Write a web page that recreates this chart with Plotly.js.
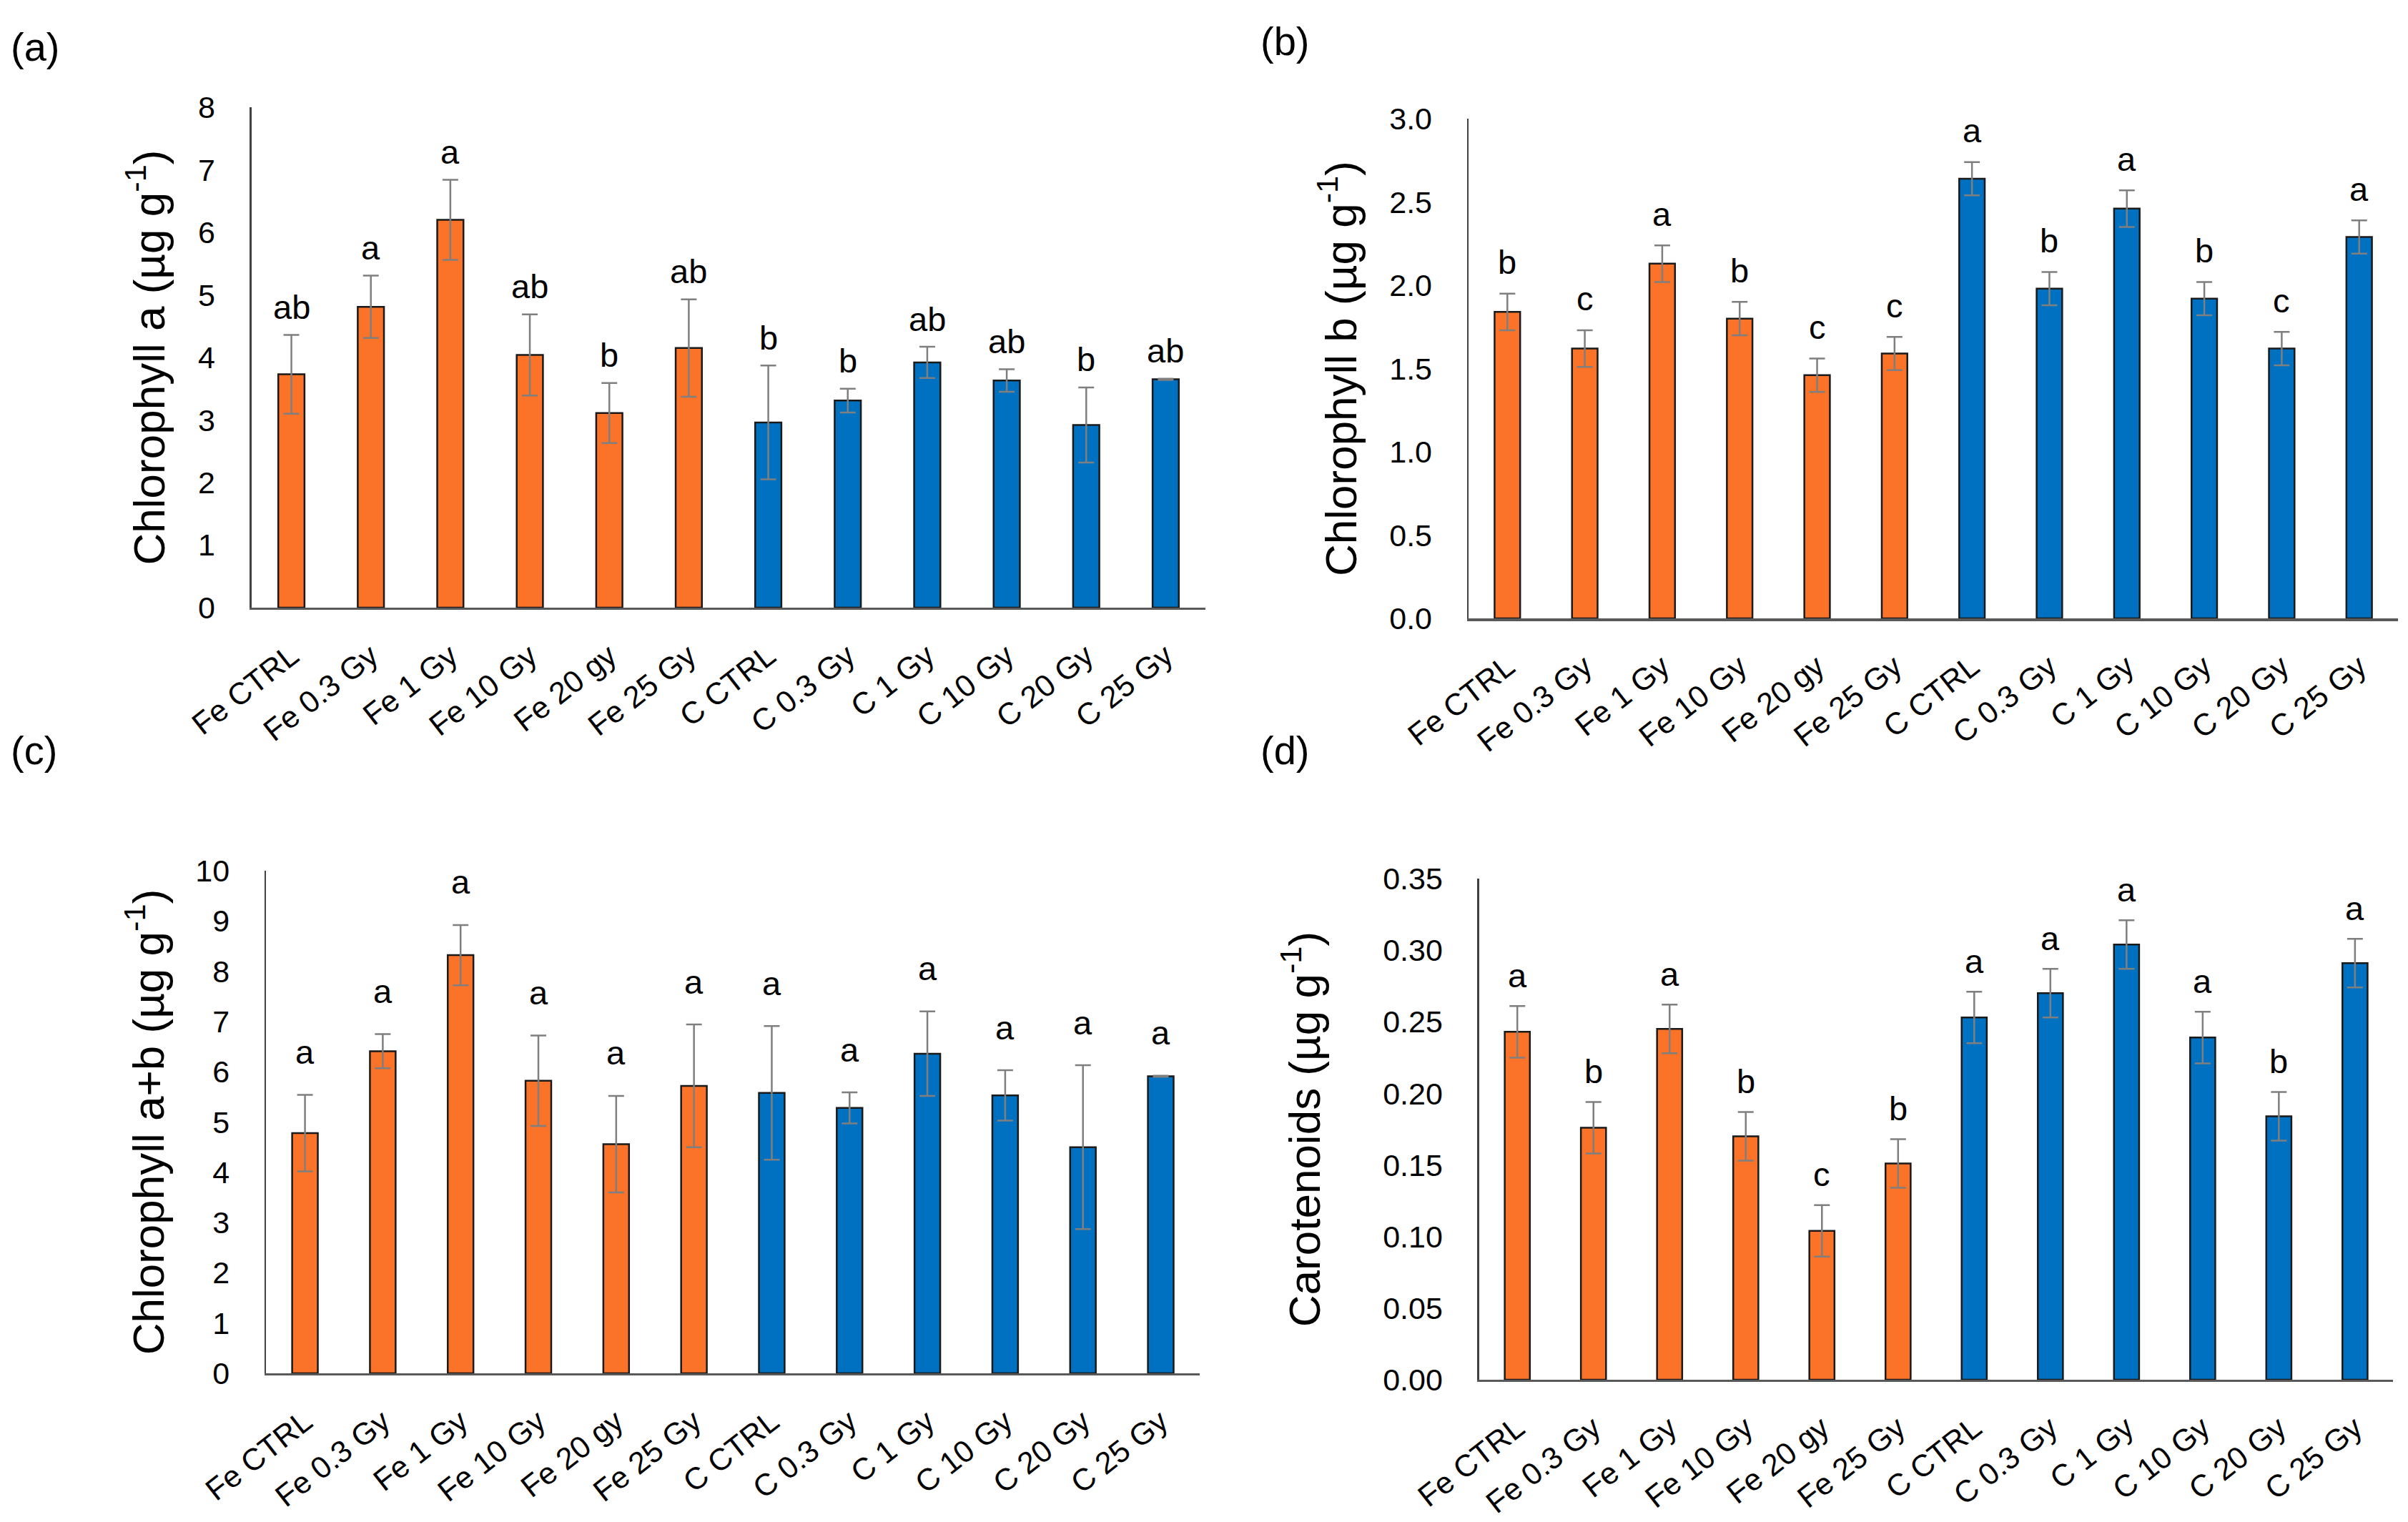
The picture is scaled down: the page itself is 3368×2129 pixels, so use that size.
<!DOCTYPE html>
<html>
<head>
<meta charset="utf-8">
<script src="https://cdn.plot.ly/plotly-3.0.1.min.js"></script>
<style>
html,body{margin:0;padding:0;background:#fff;}
#chart{width:3368px;height:2129px;}
</style>
</head>
<body>
<div id="chart"></div>
<script>
// ---------- data ----------
const categories = ['Fe CTRL','Fe 0.3 Gy','Fe 1 Gy','Fe 10 Gy','Fe 20 gy','Fe 25 Gy','C CTRL','C 0.3 Gy','C 1 Gy','C 10 Gy','C 20 Gy','C 25 Gy'];
const groups = ['Fe','Fe','Fe','Fe','Fe','Fe','C','C','C','C','C','C'];

const chlA = [3.73, 4.81, 6.20, 4.04, 3.11, 4.15, 2.96, 3.31, 3.92, 3.63, 2.92, 3.65];
const chlAErr = [0.63, 0.50, 0.64, 0.65, 0.48, 0.78, 0.91, 0.19, 0.25, 0.18, 0.60, 0.01];
const chlALetters = ['ab','a','a','ab','b','ab','b','b','ab','ab','b','ab'];

const chlB = [1.84, 1.62, 2.13, 1.80, 1.46, 1.59, 2.64, 1.98, 2.46, 1.92, 1.62, 2.29];
const chlBErr = [0.11, 0.11, 0.11, 0.10, 0.10, 0.10, 0.10, 0.10, 0.11, 0.10, 0.10, 0.10];
const chlBLetters = ['b','c','a','b','c','c','a','b','a','b','c','a'];

const chlAB = [4.78, 6.41, 8.32, 5.82, 4.56, 5.72, 5.58, 5.28, 6.36, 5.53, 4.50, 5.91];
const chlABErr = [0.76, 0.34, 0.60, 0.90, 0.96, 1.22, 1.33, 0.31, 0.84, 0.50, 1.63, 0.01];
const chlABLetters = ['a','a','a','a','a','a','a','a','a','a','a','a'];

const carot = [0.243, 0.176, 0.245, 0.170, 0.104, 0.151, 0.253, 0.270, 0.304, 0.239, 0.184, 0.291];
const carotErr = [0.018, 0.018, 0.017, 0.017, 0.018, 0.017, 0.018, 0.017, 0.017, 0.018, 0.017, 0.017];
const carotLetters = ['a','b','a','b','c','b','a','a','a','a','b','a'];

const yTitles = ['Chlorophyll a (µg g<sup>-1</sup>)', 'Chlorophyll b (µg g<sup>-1</sup>)', 'Chlorophyll a+b (µg g<sup>-1</sup>)', 'Carotenoids (µg g<sup>-1</sup>)'];
const panelLabels = ['(a)', '(b)', '(c)', '(d)'];

// ---------- style ----------
const groupColors = {Fe: '#FA7328', C: '#0070C0'};
const FONT = 'Liberation Sans, Arial, sans-serif';

const panels = [
  {vals: chlA, errs: chlAErr, letters: chlALetters, range: [0, 8], dtick: 1, fmt: '', xd: [0.1045, 0.5006], yd: [0.6008, 0.9295], standoff: 26, lshift: 39, lab: [0.004, 0.969]},
  {vals: chlB, errs: chlBErr, letters: chlBLetters, range: [0, 3], dtick: 0.5, fmt: '.1f', xd: [0.6099, 0.9958], yd: [0.5937, 0.922], standoff: 26, lshift: 44, lab: [0.523, 0.973]},
  {vals: chlAB, errs: chlABErr, letters: chlABLetters, range: [0, 10], dtick: 1, fmt: '', xd: [0.1105, 0.4982], yd: [0.0977, 0.4279], standoff: 24, lshift: 60, lab: [0.004, 0.507]},
  {vals: carot, errs: carotErr, letters: carotLetters, range: [0, 0.35], dtick: 0.05, fmt: '.2f', xd: [0.6143, 0.9938], yd: [0.0935, 0.4227], standoff: 68, lshift: 43, lab: [0.523, 0.507]}
];

const data = [];
const layout = {
  width: 3368, height: 2129,
  margin: {l: 0, r: 0, t: 0, b: 0},
  paper_bgcolor: '#ffffff', plot_bgcolor: '#ffffff',
  showlegend: false,
  bargap: 0.67,
  font: {family: FONT, color: '#000000'},
  annotations: []
};

panels.forEach((p, i) => {
  const n = i === 0 ? '' : String(i + 1);
  const xa = 'x' + n, ya = 'y' + n;
  data.push({
    type: 'bar',
    x: categories,
    y: p.vals,
    xaxis: xa, yaxis: ya,
    marker: {color: groups.map(g => groupColors[g]), line: {color: '#1a1a1a', width: 2.5}},
    error_y: {type: 'data', array: p.errs, visible: true, color: '#7f7f7f', thickness: 2.5, width: 11},
    hoverinfo: 'x+y'
  });
  layout['xaxis' + n] = {
    domain: p.xd, anchor: ya,
    type: 'category',
    showline: true, linecolor: '#595959', linewidth: 3.5,
    showgrid: false, zeroline: false, ticks: '',
    tickangle: -38,
    ticklabelstandoff: 22,
    tickfont: {family: FONT, size: 43, color: '#000000'}
  };
  layout['yaxis' + n] = {
    domain: p.yd, anchor: xa,
    range: p.range, dtick: p.dtick, tick0: 0, tickformat: p.fmt,
    showline: true, linecolor: '#404040', linewidth: 2.5,
    showgrid: false, zeroline: false, ticks: '',
    ticklabelstandoff: 40,
    tickfont: {family: FONT, size: 43, color: '#000000'},
    title: {
      text: yTitles[i],
      font: {family: FONT, size: 62, color: '#000000'},
      standoff: p.standoff
    }
  };
  categories.forEach((c, k) => {
    layout.annotations.push({
      x: c, y: p.vals[k] + p.errs[k], xref: xa, yref: ya,
      text: p.letters[k], showarrow: false,
      yanchor: 'middle', yshift: p.lshift,
      font: {family: FONT, size: 47, color: '#000000'}
    });
  });
  layout.annotations.push({
    x: p.lab[0], y: p.lab[1], xref: 'paper', yref: 'paper',
    text: panelLabels[i], showarrow: false,
    xanchor: 'left', yanchor: 'middle',
    font: {family: FONT, size: 56, color: '#000000'}
  });
});

Plotly.newPlot('chart', data, layout, {staticPlot: true});
</script>
</body>
</html>
